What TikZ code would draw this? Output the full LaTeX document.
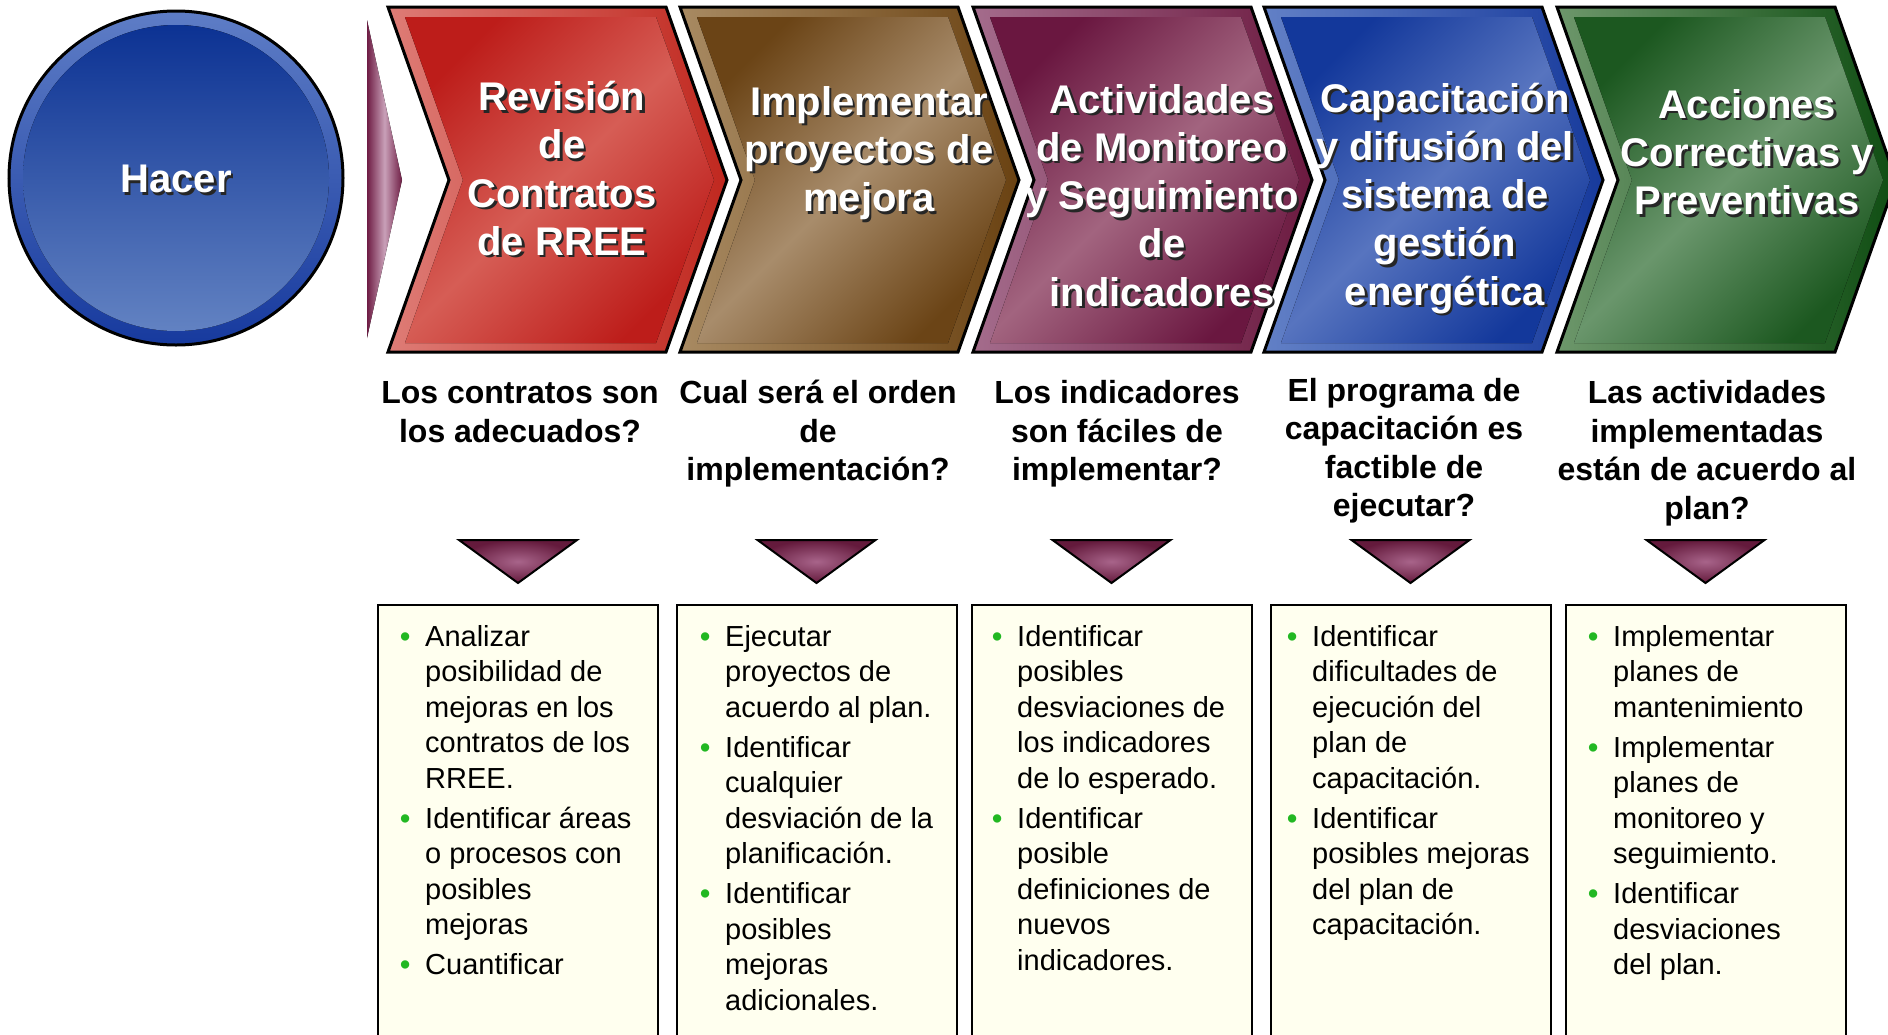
\documentclass[tikz,border=0pt]{standalone}
\usepackage{fontspec}
\setmainfont{Liberation Sans}
\definecolor{Rband}{HTML}{DE7C76}\definecolor{Rbandd}{HTML}{C0281F}\definecolor{Rdark}{HTML}{BD1D1A}\definecolor{Rlight}{HTML}{D65D55}
\definecolor{Bband}{HTML}{A88A62}\definecolor{Bbandd}{HTML}{6A4212}\definecolor{Bdark}{HTML}{6B4416}\definecolor{Blight}{HTML}{A88C6B}
\definecolor{Pband}{HTML}{A46C8C}\definecolor{Pbandd}{HTML}{6C1A40}\definecolor{Pdark}{HTML}{6A1740}\definecolor{Plight}{HTML}{A2647F}
\definecolor{Uband}{HTML}{6280C6}\definecolor{Ubandd}{HTML}{173A9C}\definecolor{Udark}{HTML}{13389B}\definecolor{Ulight}{HTML}{5774BF}
\definecolor{Gband}{HTML}{6D976B}\definecolor{Gbandd}{HTML}{0F4D12}\definecolor{Gdark}{HTML}{1C5820}\definecolor{Glight}{HTML}{6A966C}
\definecolor{tlight}{HTML}{A8648A}\definecolor{tdark}{HTML}{641A3C}
\definecolor{sdark}{HTML}{6E1D44}\definecolor{slight}{HTML}{C9A0B8}
\definecolor{ringL}{HTML}{5E7DC6}\definecolor{ringD}{HTML}{173A9E}
\definecolor{circTop}{HTML}{0C3293}\definecolor{circBot}{HTML}{6282C2}
\definecolor{ivory}{HTML}{FFFFEF}
\definecolor{bgreen}{HTML}{22B822}
\newcommand\mlines[1]{\begin{tabular}[t]{@{}c@{}}#1\end{tabular}}
\newcommand\blt{\makebox[25pt][l]{\textcolor{bgreen}{\bfseries\char"2022}}}
\newcommand\blist[1]{\begin{tabular}[t]{@{}l@{}l@{}}#1\end{tabular}}
\tikzset{
  chevtext/.style={font=\bfseries\fontsize{40}{48.3}\selectfont, text=white, inner sep=0pt, anchor=base},
  chevshadow/.style={chevtext, text=black!85},
  ques/.style={font=\bfseries\fontsize{32}{38.5}\selectfont, inner sep=0pt, anchor=base},
  blistnode/.style={font=\fontsize{29}{35.5}\selectfont, inner sep=0pt, anchor=base west},
  qbox/.style={line width=2.5pt, fill=ivory, draw=black},
  tri/.style={inner color=tlight, outer color=tdark, draw=black, line width=2pt, line join=miter},
}
\begin{document}
\begin{tikzpicture}[x=1pt,y=-1pt]
\useasboundingbox (0,0) rectangle (1888,1034);
\clip (0,0) rectangle (1888,1034);
% circle
\fill[top color=ringL, bottom color=ringD] (176,178) circle (167pt);
\fill[top color=circTop, bottom color=circBot] (176,178) circle (153pt);
\draw[line width=3pt] (176,178) circle (167pt);
\node[chevshadow, anchor=center] (hacers) at (178.5,181.5) {Hacer};
\node[chevtext, anchor=center] (hacer) at (176,179) {Hacer};
% sliver
\fill[left color=sdark, right color=sdark, middle color=slight] (367,20) -- (402,180) -- (367,338) -- cycle;
% chevrons
\foreach \x/\ca/\cb/\cc/\cd in {388/Rband/Rbandd/Rdark/Rlight, 680/Bband/Bbandd/Bdark/Blight, 973/Pband/Pbandd/Pdark/Plight, 1264/Uband/Ubandd/Udark/Ulight, 1557/Gband/Gbandd/Gdark/Glight}{
  \fill[left color=\ca, right color=\cb] (\x,7) -- (\x+278,7) -- (\x+339,180) -- (\x+278,352) -- (\x,352) -- (\x+61,180) -- cycle;
  \fill[left color=\cc, right color=\cc, middle color=\cd, shading angle=45] (\x+17,17) -- (\x+268,17) -- (\x+326,180) -- (\x+268,343) -- (\x+17,343) -- (\x+75,180) -- cycle;
  \draw[line width=3pt, line join=miter] (\x,7) -- (\x+278,7) -- (\x+339,180) -- (\x+278,352) -- (\x,352) -- (\x+61,180) -- cycle;
}
% chevron texts
\node[chevshadow] (c1s) at (564.5,113) {\mlines{Revisión\\de\\Contratos\\de RREE}};
\node[chevtext] (c1) at (562,110.5) {\mlines{Revisión\\de\\Contratos\\de RREE}};
\node[chevshadow] (c2s) at (871.5,117.5) {\mlines{Implementar\\proyectos de\\mejora}};
\node[chevtext] (c2) at (869,115) {\mlines{Implementar\\proyectos de\\mejora}};
\node[chevshadow] (c3s) at (1164.5,115.5) {\mlines{Actividades\\de Monitoreo\\y Seguimiento\\de\\indicadores}};
\node[chevtext] (c3) at (1162,113) {\mlines{Actividades\\de Monitoreo\\y Seguimiento\\de\\indicadores}};
\node[chevshadow] (c4s) at (1447.5,114.5) {\mlines{Capacitación\\y difusión del\\sistema de\\gestión\\energética}};
\node[chevtext] (c4) at (1445,112) {\mlines{Capacitación\\y difusión del\\sistema de\\gestión\\energética}};
\node[chevshadow] (c5s) at (1749.5,120.5) {\mlines{Acciones\\Correctivas y\\Preventivas}};
\node[chevtext] (c5) at (1747,118) {\mlines{Acciones\\Correctivas y\\Preventivas}};
% questions
\node[ques] (q1) at (520,403.5) {\mlines{Los contratos son\\los adecuados?}};
\node[ques] (q2) at (818,403.5) {\mlines{Cual será el orden\\de\\implementación?}};
\node[ques] (q3) at (1117,403.5) {\mlines{Los indicadores\\son fáciles de\\implementar?}};
\node[ques] (q4) at (1404,401) {\mlines{El programa de\\capacitación es\\factible de\\ejecutar?}};
\node[ques] (q5) at (1707,403.5) {\mlines{Las actividades\\implementadas\\están de acuerdo al\\plan?}};
% triangles
\foreach \cx in {518,816.5,1111.5,1410.5,1705.5}{
  \path[tri] (\cx-59,540) -- (\cx+59,540) -- (\cx,583) -- cycle;
}
% boxes
\foreach \lx in {378,677,972,1271,1566}{
  \path[qbox] (\lx,605) rectangle (\lx+280,1060);
}
% box contents
\node[blistnode] (b1) at (400,646) {\blist{\blt & Analizar\\ & posibilidad de\\ & mejoras en los\\ & contratos de los\\ & RREE.\\[4.5pt] \blt & Identificar áreas\\ & o procesos con\\ & posibles\\ & mejoras\\[4.5pt] \blt & Cuantificar}};
\node[blistnode] (b2) at (700,646) {\blist{\blt & Ejecutar\\ & proyectos de\\ & acuerdo al plan.\\[4.5pt] \blt & Identificar\\ & cualquier\\ & desviación de la\\ & planificación.\\[4.5pt] \blt & Identificar\\ & posibles\\ & mejoras\\ & adicionales.}};
\node[blistnode] (b3) at (992,646) {\blist{\blt & Identificar\\ & posibles\\ & desviaciones de\\ & los indicadores\\ & de lo esperado.\\[4.5pt] \blt & Identificar\\ & posible\\ & definiciones de\\ & nuevos\\ & indicadores.}};
\node[blistnode] (b4) at (1287,646) {\blist{\blt & Identificar\\ & dificultades de\\ & ejecución del\\ & plan de\\ & capacitación.\\[4.5pt] \blt & Identificar\\ & posibles mejoras\\ & del plan de\\ & capacitación.}};
\node[blistnode] (b5) at (1588,646) {\blist{\blt & Implementar\\ & planes de\\ & mantenimiento\\[4.5pt] \blt & Implementar\\ & planes de\\ & monitoreo y\\ & seguimiento.\\[4.5pt] \blt & Identificar\\ & desviaciones\\ & del plan.}};
\end{tikzpicture}
\end{document}
